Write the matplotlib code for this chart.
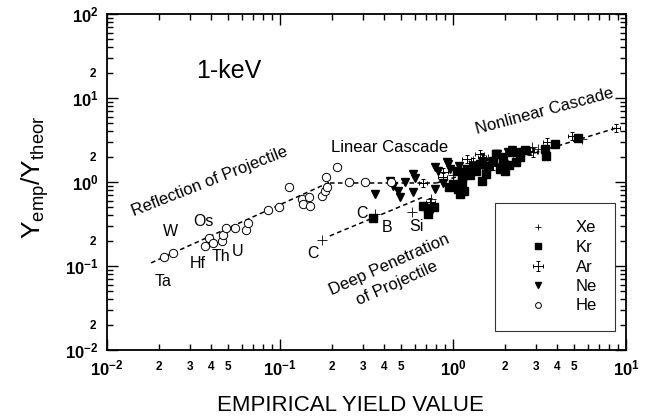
import matplotlib

matplotlib.use("Agg")
import matplotlib.pyplot as plt
import numpy as np
from matplotlib.container import ErrorbarContainer
from matplotlib.legend_handler import HandlerErrorbar

plt.rcParams["font.family"] = "Liberation Sans"
plt.rcParams["mathtext.fontset"] = "custom"
plt.rcParams["mathtext.rm"] = "Liberation Sans"
plt.rcParams["mathtext.bf"] = "Liberation Sans:bold"
plt.rcParams["mathtext.it"] = "Liberation Sans:italic"

# empirical yield value vs. Y_emp / Y_theor, 1 keV bombardment
he_x = [0.0213, 0.024, 0.037, 0.039, 0.041, 0.046, 0.047, 0.049, 0.055, 0.064, 0.065,
        0.085, 0.099, 0.113, 0.134, 0.135, 0.147, 0.149, 0.175, 0.182, 0.187, 0.185,
        0.213, 0.25, 0.31, 0.44]
he_y = [0.128, 0.143, 0.173, 0.215, 0.188, 0.199, 0.234, 0.283, 0.28, 0.27, 0.325,
        0.46, 0.50, 0.87, 0.63, 0.55, 0.66, 0.52, 0.68, 0.79, 0.87, 1.15,
        1.51, 1.0, 1.0, 1.0]

ne_x = [0.354, 0.43, 0.45, 0.48, 0.494, 0.53, 0.59, 0.59, 0.60, 0.79, 0.79, 0.82,
        0.92, 0.94, 0.96, 0.87, 1.09, 1.79, 2.07, 1.95, 1.77, 1.3, 1.5, 1.15, 2.2]
ne_y = [0.72, 1.04, 0.9, 0.78, 0.66, 1.0, 1.24, 0.76, 1.12, 0.83, 1.51, 1.35,
        1.73, 1.64, 1.43, 0.98, 1.55, 2.15, 2.3, 2.0, 2.15, 1.5, 1.75, 1.3, 2.4]

ar_x = [0.67, 0.74, 0.72, 0.87, 0.88, 1.2, 1.31, 1.43, 1.47, 1.49, 1.55, 2.77, 2.9,
        3.5, 4.9, 8.75, 1.1, 1.7, 2.35, 1.05]
ar_y = [0.98, 0.58, 0.45, 1.15, 1.3, 1.88, 1.73, 2.15, 1.97, 1.88, 1.65, 2.34, 2.25,
        3.0, 3.5, 4.4, 1.3, 1.55, 2.1, 0.95]

kr_x = [0.345, 0.67, 0.72, 0.78, 0.72, 1.05, 1.12, 1.07, 1.13, 1.09, 1.0, 1.1, 1.15,
        1.2, 1.43, 1.47, 1.77, 1.87, 1.95, 2.0, 2.2, 2.3, 2.44, 2.45, 3.4, 3.45, 3.88,
        5.28, 1.25, 1.35, 1.6, 1.55, 1.7, 2.1, 2.6, 0.95]
kr_y = [0.37, 0.52, 0.49, 0.50, 0.42, 1.34, 1.0, 0.83, 1.15, 0.86, 0.95, 0.72, 0.78,
        1.43, 1.64, 1.02, 2.15, 1.43, 1.78, 1.34, 2.28, 1.73, 2.28, 2.0, 2.47, 2.04, 2.83,
        3.34, 1.2, 1.35, 1.55, 1.25, 1.8, 1.6, 2.4, 0.88]

xe_x = [0.175, 0.355, 0.58, 0.75, 1.0, 1.31, 1.6, 2.86, 3.1, 5.6, 1.25, 2.0, 2.5]
xe_y = [0.204, 0.42, 0.44, 0.62, 1.2, 1.78, 1.9, 2.61, 2.5, 3.25, 1.55, 2.05, 2.2]

# guide lines for the three regimes
refl_x = [0.018, 0.195]
refl_y = [0.109, 1.0]
linear_x = [0.195, 0.8]
linear_y = [0.97, 0.97]
nonlin_x = [0.8, 8.8]
nonlin_y = [0.97, 4.4]
deep_x = [0.194, 0.67]
deep_y = [0.228, 0.66]

# target elements next to the points
elem_names = ["W", "Os", "Hf", "Th", "U", "Ta", "C", "C", "B", "Si"]
elem_x = [0.0234, 0.0359, 0.0336, 0.0456, 0.0572, 0.0211, 0.155, 0.298, 0.415, 0.611]
elem_y = [0.254, 0.343, 0.106, 0.128, 0.147, 0.0645, 0.139, 0.416, 0.291, 0.299]

ar_xfac = 1.06
ar_yfac = 1.12

fig = plt.figure(figsize=(6.46, 4.19), dpi=100)
ax = fig.add_axes([107 / 646, 69 / 419, 519 / 646, 336 / 419])
ax.set_xscale("log")
ax.set_yscale("log")
ax.set_xlim(1e-2, 1e1)
ax.set_ylim(1e-2, 1e2)

dash = dict(color="black", lw=1.1, ls=(0, (3, 2.2)))
for lx, ly in [(refl_x, refl_y), (linear_x, linear_y), (nonlin_x, nonlin_y), (deep_x, deep_y)]:
    ax.plot(lx, ly, **dash, zorder=1)

h_xe, = ax.plot(xe_x, xe_y, ls="none", marker="+", ms=7, mew=0.6, color="black")
h_kr, = ax.plot(kr_x, kr_y, ls="none", marker="s", ms=5.8, color="black")
ar_xa = np.array(ar_x)
ar_ya = np.array(ar_y)
h_ar = ax.errorbar(ar_xa, ar_ya,
                   xerr=[ar_xa - ar_xa / ar_xfac, ar_xa * ar_xfac - ar_xa],
                   yerr=[ar_ya - ar_ya / ar_yfac, ar_ya * ar_yfac - ar_ya],
                   fmt="none", ecolor="black", elinewidth=0.7, capsize=1.5, capthick=0.7)
h_ne, = ax.plot(ne_x, ne_y, ls="none", marker="v", ms=6.2, color="black")
h_he, = ax.plot(he_x, he_y, ls="none", marker="o", ms=6, mfc="white", mec="black",
                mew=0.7)

for name, ex, ey in zip(elem_names, elem_x, elem_y):
    ax.text(ex, ey, name, fontsize=11.5, ha="center", va="center")

ax.text(0.0507, 20.9, "1-keV", fontsize=18, ha="center", va="center")
ax.text(0.0394, 1.0, "Reflection of Projectile", fontsize=12, ha="center", va="center",
        rotation=21.5, rotation_mode="anchor")
ax.text(0.427, 2.61, "Linear Cascade", fontsize=12, ha="center", va="center")
ax.text(3.4, 7.0, "Nonlinear Cascade", fontsize=12, ha="center", va="center",
        rotation=15, rotation_mode="anchor")
ax.text(0.45, 0.080, "Deep Penetration\nof Projectile", fontsize=12, ha="center",
        va="center", rotation=24, rotation_mode="anchor", multialignment="center",
        linespacing=1.45)

# ticks: decades plus 2..9, only a few minor values labelled
major = [1e-2, 1e-1, 1e0, 1e1, 1e2]
major_lbl = [r"$\mathbf{10^{-2}}$", r"$\mathbf{10^{-1}}$", r"$\mathbf{10^{0}}$",
             r"$\mathbf{10^{1}}$", r"$\mathbf{10^{2}}$"]
ax.set_xticks(major[:4])
ax.set_xticklabels(major_lbl[:4])
ax.set_yticks(major)
ax.set_yticklabels(major_lbl)

x_minor, x_minor_lbl = [], []
for d in [1e-2, 1e-1, 1e0]:
    for m in range(2, 10):
        x_minor.append(m * d)
        x_minor_lbl.append(str(m) if m <= 5 else "")
y_minor, y_minor_lbl = [], []
for d in [1e-2, 1e-1, 1e0, 1e1]:
    for m in range(2, 10):
        y_minor.append(m * d)
        y_minor_lbl.append("2" if m == 2 else "")
ax.set_xticks(x_minor, minor=True)
ax.set_xticklabels(x_minor_lbl, minor=True)
ax.set_yticks(y_minor, minor=True)
ax.set_yticklabels(y_minor_lbl, minor=True)

ax.tick_params(which="both", direction="in", top=True, right=True, width=1.0)
ax.tick_params(which="major", length=8, labelsize=12, pad=6)
ax.tick_params(which="minor", length=4, labelsize=8.5, pad=8)
for lbl in ax.get_xticklabels(minor=True) + ax.get_yticklabels(minor=True):
    lbl.set_fontweight("bold")
for sp in ax.spines.values():
    sp.set_linewidth(1.3)

fig.text(350 / 646, 1 - 405 / 419, "EMPIRICAL YIELD VALUE", fontsize=16,
         ha="center", va="center")
fig.text(35 / 646, 1 - 177 / 419, r"$\mathregular{Y_{emp}/Y_{theor}}$", fontsize=19,
         ha="center", va="center", rotation=90)

leg = ax.legend([h_xe, h_kr, h_ar, h_ne, h_he], ["Xe", "Kr", "Ar", "Ne", "He"],
                loc="upper left", bbox_to_anchor=(0.748, 0.4375), borderaxespad=0,
                fontsize=12, frameon=True, fancybox=False, edgecolor="black",
                borderpad=1.05, handlelength=3.0, handletextpad=0.8, labelspacing=0.27,
                markerscale=0.7,
                handler_map={ErrorbarContainer: HandlerErrorbar(xerr_size=0.3,
                                                                yerr_size=0.3)})
leg.get_frame().set_linewidth(0.8)

fig.savefig("out.png", dpi=100)
